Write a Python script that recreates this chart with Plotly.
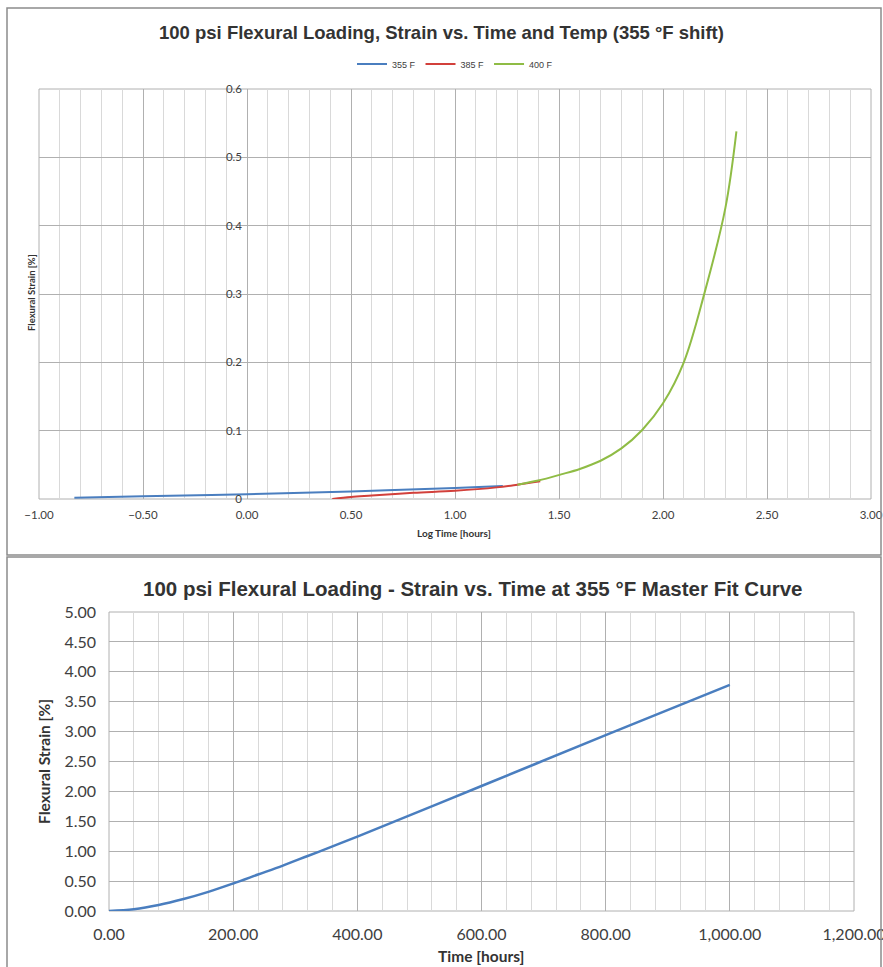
import plotly.graph_objects as go

# top chart: shifted creep curves (log time vs strain)
log_t_355 = [-0.83, -0.5, 0.0, 0.5, 1.0, 1.23]
strain_355 = [0.002, 0.004, 0.007, 0.011, 0.016, 0.019]
log_t_385 = [0.41, 0.5, 0.6, 0.8, 1.0, 1.2, 1.3, 1.41]
strain_385 = [0.0, 0.003, 0.005, 0.009, 0.012, 0.017, 0.021, 0.026]
log_t_400 = [1.30, 1.4, 1.51, 1.6, 1.7, 1.8, 1.9, 2.0, 2.1, 2.2, 2.3, 2.353]
strain_400 = [0.021, 0.027, 0.036, 0.044, 0.056, 0.074, 0.101, 0.14, 0.20, 0.302, 0.426, 0.538]

# bottom chart: master fit curve
master_time = [0, 40, 80, 120, 160, 200, 240, 280, 320, 360, 400, 600, 800, 1000]
master_strain = [0, 0.03, 0.1, 0.2, 0.32, 0.46, 0.61, 0.76, 0.92, 1.08, 1.245, 2.09, 2.94, 3.78]

W, H = 883, 967
def px(x): return x / W
def py(y): return 1 - y / H

MAJOR = "#b0b0b0"
MINOR = "#d9d9d9"
TXT = "#404040"
TITLE_FONT = "Liberation Sans Narrow, Arial Narrow, Liberation Sans, Arial"
LBL_FONT = "Lato, Open Sans, sans-serif"

fig = go.Figure()
fig.add_trace(go.Scatter(x=log_t_355, y=strain_355, mode="lines", name="355 F",
                         line=dict(color="#4a7ebf", width=2, shape="spline"), xaxis="x", yaxis="y"))
fig.add_trace(go.Scatter(x=log_t_385, y=strain_385, mode="lines", name="385 F",
                         line=dict(color="#d2403b", width=2, shape="spline"), xaxis="x", yaxis="y"))
fig.add_trace(go.Scatter(x=log_t_400, y=strain_400, mode="lines", name="400 F",
                         line=dict(color="#8fbc45", width=2, shape="spline"), xaxis="x", yaxis="y"))
fig.add_trace(go.Scatter(x=master_time, y=master_strain, mode="lines", showlegend=False,
                         line=dict(color="#4a7ebf", width=2.5, shape="spline"), xaxis="x2", yaxis="y2"))

fig.update_layout(
    width=W, height=H,
    margin=dict(l=0, r=0, t=0, b=0),
    paper_bgcolor="white", plot_bgcolor="white",
    showlegend=True,
    legend=dict(orientation="h", x=px(455), y=py(64), xanchor="center", yanchor="middle",
                font=dict(family=TITLE_FONT, size=9, color=TXT), itemwidth=30,
                bgcolor="rgba(0,0,0,0)"),
    xaxis=dict(domain=[px(39), px(871)], range=[-1, 3], dtick=0.5, tick0=0,
               tickformat=".2f", showgrid=True, gridcolor=MAJOR, gridwidth=1,
               minor=dict(dtick=0.1, tick0=0, showgrid=True, gridcolor=MINOR, gridwidth=1),
               zeroline=False, showline=False, ticks="", ticklabelstandoff=7,
               ticklabeloverflow="allow",
               tickfont=dict(family=LBL_FONT, size=11.5, color=TXT),
               anchor="y", automargin=False, fixedrange=True),
    yaxis=dict(domain=[py(499), py(89)], range=[0, 0.6], dtick=0.1, tick0=0,
               showgrid=True, gridcolor=MAJOR, gridwidth=1, zeroline=False,
               showline=False, ticks="", anchor="free", position=px(247),
               ticklabelstandoff=5,
               tickfont=dict(family=LBL_FONT, size=11.5, color=TXT),
               automargin=False, fixedrange=True),
    xaxis2=dict(domain=[px(109), px(854)], range=[0, 1200], dtick=200, tick0=0,
                tickformat=",.2f", showgrid=True, gridcolor=MAJOR, gridwidth=1,
                minor=dict(dtick=40, tick0=0, showgrid=True, gridcolor=MINOR, gridwidth=1),
                zeroline=False, showline=False, ticks="", ticklabelstandoff=12,
                ticklabeloverflow="allow",
                tickfont=dict(family=LBL_FONT, size=16, color=TXT),
                anchor="y2", automargin=False, fixedrange=True),
    yaxis2=dict(domain=[py(911), py(612)], range=[0, 5], dtick=0.5, tick0=0,
                tickformat=".2f", showgrid=True, gridcolor=MAJOR, gridwidth=1,
                zeroline=False, showline=False, ticks="", ticklabelstandoff=12,
                tickfont=dict(family=LBL_FONT, size=16, color=TXT),
                anchor="x2", automargin=False, fixedrange=True),
)

# plot area frames
for xr, yr in (("x", "y"), ("x2", "y2")):
    fig.add_shape(type="rect", xref=xr + " domain", yref=yr + " domain", x0=0, x1=1, y0=0, y1=1,
                  line=dict(color=MAJOR, width=1), layer="below")

# chart outer borders
fig.add_shape(type="rect", xref="paper", yref="paper", x0=px(7), x1=px(881), y0=py(555), y1=py(8),
              line=dict(color="#8c8c8c", width=1.5))
fig.add_shape(type="rect", xref="paper", yref="paper", x0=px(7), x1=px(881), y0=py(975), y1=py(557),
              line=dict(color="#8c8c8c", width=1.5))

ann = [
    dict(text="<b>100 psi Flexural Loading, Strain vs. Time and Temp (355 °F shift)</b>",
         x=px(442), y=py(32), font=dict(family=TITLE_FONT, size=18.5, color="#333333")),
    dict(text="<b>Log Time [hours]</b>", x=px(454), y=py(533),
         font=dict(family=LBL_FONT, size=10, color="#333333")),
    dict(text="<b>Flexural Strain [%]</b>", x=px(32), y=py(293), textangle=-90,
         font=dict(family=LBL_FONT, size=9.5, color="#333333")),
    dict(text="<b>100 psi Flexural Loading - Strain vs. Time at 355 °F Master Fit Curve</b>",
         x=px(472), y=py(588), font=dict(family=TITLE_FONT, size=20.5, color="#333333")),
    dict(text="<b>Time [hours]</b>", x=px(481), y=py(956),
         font=dict(family=LBL_FONT, size=15.5, color="#333333")),
    dict(text="<b>Flexural Strain [%]</b>", x=px(44), y=py(762), textangle=-90,
         font=dict(family=LBL_FONT, size=15.5, color="#333333")),
]
for a in ann:
    fig.add_annotation(xref="paper", yref="paper", showarrow=False,
                       xanchor="center", yanchor="middle", **a)

# page body has a default 8px margin; drop it so the figure sits at the window origin
fig.write_html("out.html", config={"displayModeBar": False},
               post_script="document.body.style.margin='0px';")
